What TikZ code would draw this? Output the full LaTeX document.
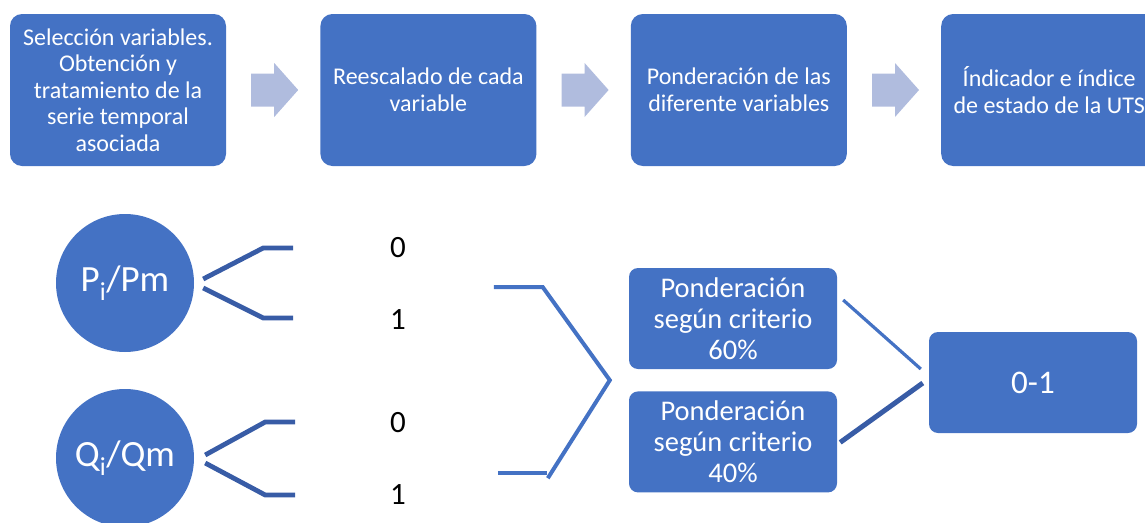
\documentclass[tikz,border=0pt]{standalone}
\usepackage{fontspec}
\setmainfont{Carlito}
\usepackage{xcolor}
\usetikzlibrary{positioning,calc}
\definecolor{azul}{RGB}{68,114,196}
\definecolor{azulosc}{RGB}{56,92,166}
\definecolor{flechac}{RGB}{176,188,222}

\begin{document}
\begin{tikzpicture}[x=1pt,y=-1pt,
  pasobox/.style={fill=azul,rounded corners=12pt,minimum width=216pt,minimum height=152pt,
    inner sep=0pt,align=center,text=white,font=\fontsize{24}{26.5}\selectfont},
  pondbox/.style={fill=azul,rounded corners=9pt,minimum width=208pt,minimum height=101pt,
    inner sep=0pt,align=center,text=white,font=\fontsize{28.5}{31}\selectfont},
  varcirc/.style={circle,fill=azul,minimum size=138pt,inner sep=0pt,text=white,
    font=\fontsize{37}{40}\selectfont},
  valor/.style={inner sep=0pt,text=black,font=\fontsize{31}{34}\selectfont},
  rama/.style={draw=azulosc,line width=4.8pt},
  llave/.style={draw=azul,line width=4pt},
  flecha/.style={fill=flechac,draw=none}]
  \useasboundingbox (0,0) rectangle (1145,522);
  \clip (0,0) rectangle (1145,522);

  % fila superior
  \node[pasobox] (paso1) at (118,90) {Selección variables.\\Obtención y\\tratamiento de la\\serie temporal\\asociada};
  \node[pasobox,right=94pt of paso1] (paso2) {Reescalado de cada\\variable};
  \node[pasobox,right=94pt of paso2] (paso3) {Ponderación de las\\diferente variables};
  \node[pasobox,right=94pt of paso3] (paso4) {Índicador e índice\\de estado de la UTS};

  \coordinate (m12) at ($(paso1.east)!0.5!(paso2.west)$);
  \coordinate (m23) at ($(paso2.east)!0.5!(paso3.west)$);
  \coordinate (m34) at ($(paso3.east)!0.5!(paso4.west)$);
  \fill[flecha] ($(m12)+(-22,-16.5)$) -- ++(23,0) -- ++(0,-10.5) -- ($(m12)+(25,0)$)
    -- ($(m12)+(1,27)$) -- ++(0,-10.5) -- ($(m12)+(-22,16.5)$) -- cycle;
  \fill[flecha] ($(m23)+(-22,-16.5)$) -- ++(23,0) -- ++(0,-10.5) -- ($(m23)+(25,0)$)
    -- ($(m23)+(1,27)$) -- ++(0,-10.5) -- ($(m23)+(-22,16.5)$) -- cycle;
  \fill[flecha] ($(m34)+(-22,-16.5)$) -- ++(23,0) -- ++(0,-10.5) -- ($(m34)+(25,0)$)
    -- ($(m34)+(1,27)$) -- ++(0,-10.5) -- ($(m34)+(-22,16.5)$) -- cycle;

  % variables
  \node[varcirc] (pc) at (125,283) {P\textsubscript{i}/Pm};
  \node[varcirc] (qc) at (125,458) {Q\textsubscript{i}/Qm};

  \node[valor] (pcero) at (398,248) {0};
  \node[valor] (puno) at (398,320) {1};
  \node[valor] (qcero) at (398,423) {0};
  \node[valor] (quno) at (398,495) {1};

  \draw[rama] ($(pc.east)+(9,-4)$) -- ++(60,-31) -- ++(30,0);
  \draw[rama] ($(pc.east)+(9,5)$) -- ++(60,30) -- ++(30,0);
  \draw[rama] ($(qc.east)+(11,-3)$) -- ++(60,-33) -- ++(30,0);
  \draw[rama] ($(qc.east)+(11,5)$) -- ++(60,32) -- ++(30,0);

  % ponderacion
  \node[pondbox] (pond1) at (733,318.5) {Ponderación\\según criterio\\60\%};
  \node[pondbox,below=22pt of pond1] (pond2) {Ponderación\\según criterio\\40\%};
  \node[pondbox,font=\fontsize{33}{36}\selectfont] (res) at (1033,382.5) {0-1};

  \coordinate (vert) at ($(pond1.south west)!0.5!(pond2.north west)+(-19,0)$);
  \draw[llave] ($(vert)+(-116,-93)$) -- ($(vert)+(-67,-93)$) -- (vert) -- ($(vert)+(-62,98)$);
  \draw[llave] ($(vert)+(-112,93)$) -- ($(vert)+(-63,93)$);

  \draw[azul,line width=3.2pt] ($(pond1.east)+(6,-18.5)$) -- ($(res.west)+(-8,-13.5)$);
  \draw[azulosc,line width=5pt] ($(pond2.east)+(3,0.5)$) -- ($(res.west)+(-6,0.5)$);
\end{tikzpicture}
\end{document}
